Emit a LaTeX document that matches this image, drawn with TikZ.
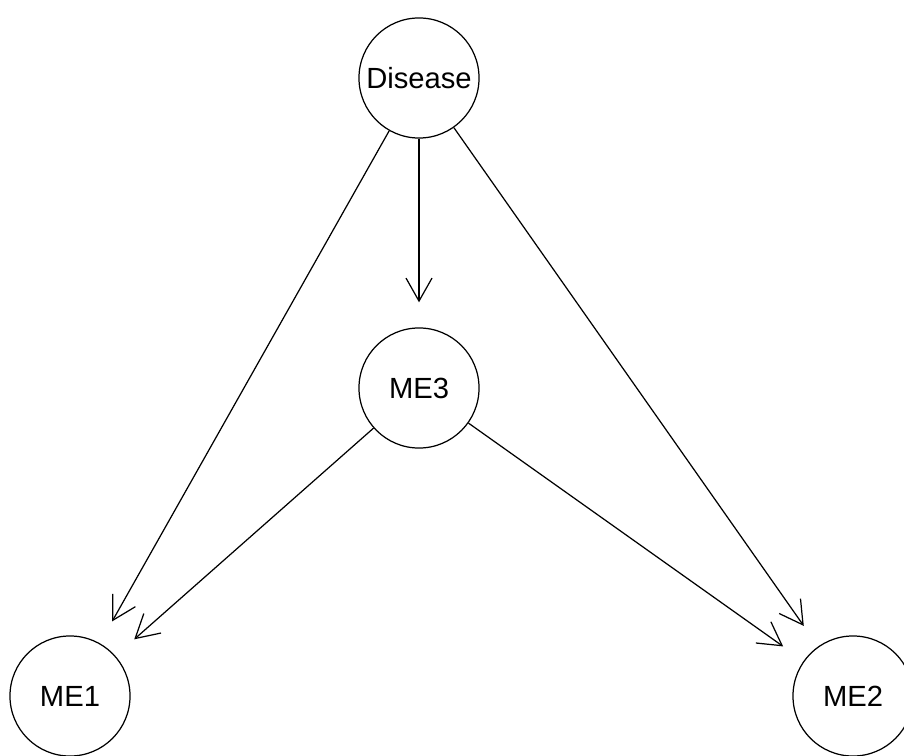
\documentclass[tikz,border=0pt]{standalone}
\usepackage{fontspec}
\setmainfont{Liberation Sans}
\usetikzlibrary{arrows.meta}

\begin{document}
\begin{tikzpicture}[x=0.01cm,y=-0.01cm,
    var/.style={draw,circle,minimum size=1.2cm,inner sep=0pt,
        font=\fontsize{8.3}{10}\selectfont},
    link/.style={-{Straight Barb[length=0.23cm,width=0.26cm]},shorten >=0.25cm}]
\useasboundingbox (0,0) rectangle (904,755);
\begin{scope}[line width=0.35pt]
\node[var] (disease) at (419,78)  {Disease};
\node[var] (me3)     at (419,388) {ME3};
\node[var] (me1)     at (70,696)  {ME1};
\node[var] (me2)     at (853,696) {ME2};
\draw[link] (disease) -- (me3);
\draw[link] (disease) -- (me1);
\draw[link] (disease) -- (me2);
\draw[link] (me3) -- (me1);
\draw[link] (me3) -- (me2);
\end{scope}
\end{tikzpicture}
\end{document}
